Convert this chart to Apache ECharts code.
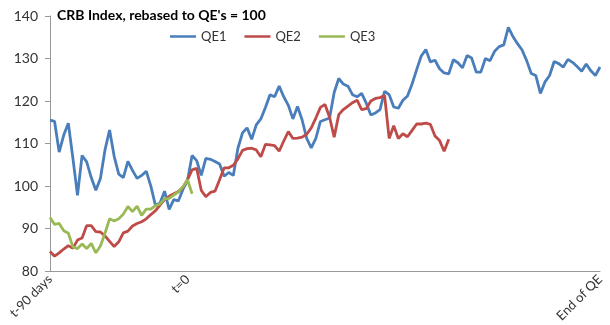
<!DOCTYPE html>
<html>
<head>
<meta charset="utf-8">
<script src="https://cdn.jsdelivr.net/npm/echarts@6/dist/echarts.min.js"></script>
<style>html,body{margin:0;padding:0;background:#fff;}#c{width:610px;height:325px;}</style>
</head>
<body>
<div id="c"></div>
<script>
const TITLE = "CRB Index, rebased to QE's = 100";
const seriesNames = ["QE1", "QE2", "QE3"];
const STEP_DAYS = 3; // spacing between observations (days)
const X_MAX = 360;   // t-90 days .. end of QE
const xTickValues = [0, 90, 360];
const xTickLabels = ["t-90 days", "t=0", "End of QE"];
const yTicks = [80, 90, 100, 110, 120, 130, 140];

const qe1 = [115.5,115.2,108.0,112.0,114.8,106.5,97.8,107.2,105.7,102.0,
  99.0,101.8,108.5,113.2,107.0,102.8,102.0,105.8,103.7,101.8,
  102.5,103.5,100.0,95.5,96.0,98.8,94.5,96.8,96.5,99.2,
  101.3,107.2,106.0,102.5,106.5,106.3,105.8,105.2,102.3,103.2,
  102.5,108.9,112.5,113.7,111.0,114.4,115.8,118.5,121.5,121.0,
  123.5,121.0,119.0,115.8,118.7,115.6,111.2,109.0,111.2,115.2,
  115.6,116.0,122.0,125.3,124.0,123.5,121.5,121.0,121.8,119.5,
  116.7,117.2,118.0,122.3,121.5,118.6,118.3,120.2,121.2,124.0,
  127.4,130.6,132.1,129.2,129.6,127.6,126.6,126.4,129.7,129.0,
  127.8,130.7,130.1,126.8,126.8,130.0,129.5,131.7,132.8,133.2,
  137.3,135.2,133.5,132.0,129.5,126.5,126.0,121.8,124.5,126.0,
  129.3,128.8,128.0,129.8,129.1,128.1,127.0,128.7,127.1,126.0,128.0];

const qe2 = [84.6,83.5,84.3,85.2,86.0,85.4,87.3,87.8,90.7,90.7,
  89.3,89.2,88.3,87.0,85.8,86.9,89.0,89.4,90.6,91.2,
  91.6,92.3,93.3,94.2,95.5,96.8,97.6,98.2,98.7,99.7,
  101.5,103.8,104.2,99.0,97.5,98.5,98.8,101.5,104.3,104.3,
  104.9,106.4,108.4,108.8,108.9,108.5,106.9,109.8,109.7,109.5,
  108.2,110.6,112.8,111.2,111.3,111.5,112.2,113.7,116.0,118.5,
  119.2,116.2,111.5,116.8,118.0,118.8,119.6,120.2,118.0,118.2,
  120.0,120.6,120.8,121.3,111.2,114.2,111.2,112.3,111.6,113.1,
  114.6,114.6,114.8,114.5,111.8,110.7,108.2,111.0];

const qe3 = [92.6,91.0,91.2,89.5,88.9,85.7,85.3,86.4,85.3,86.5,
  84.3,85.9,88.9,92.3,91.8,92.3,93.4,95.2,94.0,95.3,
  93.1,94.6,94.6,95.4,95.8,97.0,97.1,97.9,98.6,99.8,
  101.5,98.2];

const colors = ["#4a7ebb", "#be4b48", "#98b954"];
const FONT = "Lato, 'Open Sans', sans-serif";

function toPairs(arr) { return arr.map((v, i) => [i * STEP_DAYS, v]); }

const chart = echarts.init(document.getElementById('c'), null, {renderer: 'canvas'});
chart.setOption({
  animation: false,
  backgroundColor: '#fff',
  color: colors,
  title: {
    text: TITLE, left: 57, top: 8, padding: 0,
    textStyle: {fontFamily: FONT, fontSize: 14, fontWeight: 'bold', color: '#000'}
  },
  legend: {
    data: seriesNames, left: 170, top: 30, padding: 0,
    icon: 'rect', itemWidth: 26, itemHeight: 2.5, itemGap: 18,
    textStyle: {fontFamily: FONT, fontSize: 13, color: '#333'}
  },
  grid: {left: 50, right: 10, top: 16, bottom: 52},
  xAxis: {
    type: 'value', min: 0, max: X_MAX,
    axisLine: {show: true, lineStyle: {color: '#999', width: 1}},
    axisTick: {show: false},
    splitLine: {show: false},
    axisLabel: {
      customValues: xTickValues, rotate: 45, margin: 6,
      fontFamily: FONT, fontSize: 13, color: '#333',
      formatter: v => { const i = xTickValues.indexOf(v); return i >= 0 ? xTickLabels[i] : ''; }
    }
  },
  yAxis: {
    type: 'value', min: yTicks[0], max: yTicks[yTicks.length - 1], interval: 10,
    axisLine: {show: true, lineStyle: {color: '#999', width: 1}},
    axisTick: {show: true, length: 5, lineStyle: {color: '#999'}},
    splitLine: {show: false},
    axisLabel: {fontFamily: FONT, fontSize: 14, color: '#333', margin: 12}
  },
  series: [qe1, qe2, qe3].map((d, i) => ({
    name: seriesNames[i], type: 'line', data: toPairs(d),
    symbol: 'none', smooth: false,
    lineStyle: {width: 2.8, color: colors[i]}
  }))
});
</script>
</body>
</html>
